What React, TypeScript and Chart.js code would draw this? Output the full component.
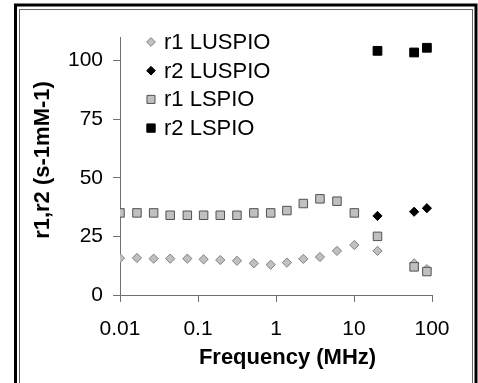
import React, { useEffect, useRef } from 'react';
import { Chart, registerables } from 'chart.js';
import { drawPoint } from 'chart.js/helpers';

Chart.register(...registerables);

// ---- data ----
const freqMHz = [0.01, 0.0165, 0.027, 0.044, 0.073, 0.118, 0.193, 0.316, 0.52, 0.855, 1.38, 2.24, 3.66, 6.05, 10.1, 20, 59, 86];
const r1Luspio = [15.7, 15.8, 15.5, 15.5, 15.5, 15.2, 14.9, 14.6, 13.5, 12.9, 13.8, 15.4, 16.2, 18.8, 21.3, 18.8, 13.5, 11];
const r1Lspio = [35, 35, 35, 34, 34, 34, 34, 34, 35, 35, 36, 39, 41, 40, 35, 25, 12, 10];
const highFreqMHz = [20, 59, 86];
const r2Luspio = [33.7, 35.5, 37];
const r2Lspio = [104.1, 103.4, 105.4];
const seriesNames = ['r1 LUSPIO', 'r2 LUSPIO', 'r1 LSPIO', 'r2 LSPIO'];
const xTickValues = [0.01, 0.1, 1, 10, 100];
const yTickValues = [0, 25, 50, 75, 100];
const xTitle = 'Frequency (MHz)';
const yTitle = 'r1,r2 (s-1mM-1)';

const FONT = "'Liberation Sans', Arial, sans-serif";

const toPoints = (xs: number[], ys: number[]) => xs.map((x, i) => ({ x, y: ys[i] }));

const framePlugin = {
  id: 'frame',
  beforeDraw(chart: any) {
    const ctx = chart.ctx;
    ctx.save();
    ctx.fillStyle = '#ffffff';
    ctx.fillRect(0, 0, chart.width, chart.height);
    ctx.strokeStyle = '#000000';
    ctx.lineWidth = 3;
    ctx.strokeRect(15.5, 5, 460.5, 420);
    ctx.strokeStyle = '#666666';
    ctx.lineWidth = 1;
    ctx.strokeRect(19.5, 9.5, 453, 420);
    ctx.restore();
  },
};

const overlayPlugin = {
  id: 'overlay',
  afterDraw(chart: any) {
    const ctx = chart.ctx;
    ctx.save();
    // axis titles
    ctx.fillStyle = '#000';
    ctx.font = `bold 22px ${FONT}`;
    ctx.textAlign = 'center';
    ctx.textBaseline = 'middle';
    ctx.fillText(xTitle, 287.5, 358);
    ctx.save();
    ctx.translate(43, 160);
    ctx.rotate(-Math.PI / 2);
    ctx.fillText(yTitle, 0, 0);
    ctx.restore();
    // legend
    ctx.font = `22px ${FONT}`;
    ctx.textAlign = 'left';
    chart.data.datasets.forEach((ds: any, i: number) => {
      const y = 42 + i * 28.7;
      ctx.fillStyle = ds.backgroundColor;
      ctx.strokeStyle = ds.borderColor;
      ctx.lineWidth = 1;
      drawPoint(ctx, { pointStyle: ds.pointStyle, radius: ds.pointRadius * 0.95, borderWidth: 1, rotation: 0 } as any, 151, y);
      ctx.fillStyle = '#000';
      ctx.fillText(ds.label, 164, y + 1);
    });
    ctx.restore();
  },
};

export default function App() {
  const ref = useRef<HTMLCanvasElement | null>(null);
  useEffect(() => {
    if (!ref.current) return;
    const axisColor = '#707070';
    const chart = new Chart(ref.current, {
      type: 'scatter',
      data: {
        datasets: [
          {
            label: seriesNames[0],
            data: toPoints(freqMHz, r1Luspio),
            pointStyle: 'rectRot',
            pointRadius: 4.6,
            backgroundColor: '#c0c0c0',
            borderColor: '#808080',
            borderWidth: 1,
            order: 3,
          },
          {
            label: seriesNames[1],
            data: toPoints(highFreqMHz, r2Luspio),
            pointStyle: 'rectRot',
            pointRadius: 4.6,
            backgroundColor: '#000000',
            borderColor: '#000000',
            borderWidth: 1,
            order: 2,
          },
          {
            label: seriesNames[2],
            data: toPoints(freqMHz, r1Lspio),
            pointStyle: 'rect',
            pointRadius: 6,
            backgroundColor: '#c0c0c0',
            borderColor: '#505050',
            borderWidth: 1,
            order: 1,
          },
          {
            label: seriesNames[3],
            data: toPoints(highFreqMHz, r2Lspio),
            pointStyle: 'rect',
            pointRadius: 6.2,
            backgroundColor: '#000000',
            borderColor: '#000000',
            borderWidth: 1,
            order: 0,
          },
        ] as any,
      },
      options: {
        animation: false,
        responsive: false,
        devicePixelRatio: 1,
        layout: { padding: { left: 0, top: 37, right: 46, bottom: 0 } },
        plugins: {
          legend: { display: false },
          tooltip: { enabled: false },
        },
        scales: {
          x: {
            type: 'logarithmic',
            position: 'bottom',
            min: 0.01,
            max: 100,
            afterBuildTicks: (s: any) => {
              s.ticks = xTickValues.map((v) => ({ value: v }));
            },
            afterFit: (s: any) => {
              s.height = 88;
            },
            ticks: {
              autoSkip: false,
              maxRotation: 0,
              padding: 15,
              color: '#000',
              font: { family: FONT, size: 21 },
              callback: (v: any) => String(v),
            },
            grid: { display: true, drawOnChartArea: false, drawTicks: true, tickLength: 7, color: axisColor },
            border: { display: true, color: axisColor },
          },
          y: {
            type: 'linear',
            min: 0,
            max: 110,
            afterBuildTicks: (s: any) => {
              s.ticks = yTickValues.map((v) => ({ value: v }));
            },
            afterFit: (s: any) => {
              s.width = 120;
            },
            ticks: {
              padding: 10,
              color: '#000',
              font: { family: FONT, size: 21 },
            },
            grid: { display: true, drawOnChartArea: false, drawTicks: true, tickLength: 7, color: axisColor },
            border: { display: true, color: axisColor },
          },
        },
      } as any,
      plugins: [framePlugin, overlayPlugin],
    });
    return () => chart.destroy();
  }, []);
  return (
    <div style={{ position: 'absolute', left: 0, top: 0, width: 478, height: 383, background: '#fff' }}>
      <canvas ref={ref} width={478} height={383} style={{ display: 'block' }} />
    </div>
  );
}
